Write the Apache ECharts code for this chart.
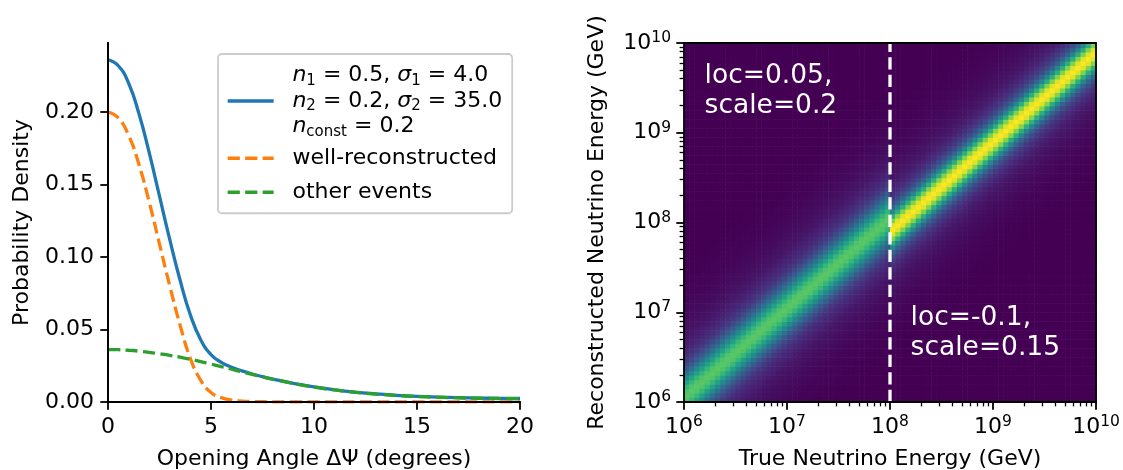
<!DOCTYPE html>
<html><head><meta charset="utf-8">
<script src="https://cdn.jsdelivr.net/npm/echarts@6/dist/echarts.min.js"></script>
<style>html,body{margin:0;padding:0;background:#fff}#c{width:1123px;height:470px}</style>
</head><body><div id="c"></div>
<script>
// ---------- left panel data ----------
const angleDeg = [0,0.5,1,1.5,2,2.5,3,3.5,4,4.5,5,5.5,6,6.5,7,7.5,8,9,10,11,12,13,14,15,16,17,18,19,20];
const totalDensity = [0.236,0.232,0.220,0.199,0.172,0.142,0.112,0.084,0.060,0.043,0.0327,0.0274,0.0240,0.0215,0.0193,0.0175,0.0158,0.0129,0.0104,0.0084,0.0068,0.0056,0.0046,0.0039,0.0034,0.0030,0.0027,0.0025,0.0024];
const wellRecoDensity = [0.200,0.196,0.184,0.164,0.138,0.109,0.080,0.053,0.030,0.015,0.0065,0.003,0.0013,0.0006,0.0003,0.0002,0.0001,0.0001,0.0001,0.0001,0.0001,0.0001,0.0001,0.0001,0.0001,0.0001,0.0001,0.0001,0.0001];
const otherDensity = [0.0362,0.0361,0.0357,0.0351,0.0343,0.0333,0.0322,0.0309,0.0295,0.0279,0.0262,0.0244,0.0226,0.0208,0.0190,0.0173,0.0157,0.0128,0.0103,0.0083,0.0067,0.0055,0.0045,0.0038,0.0033,0.0029,0.0026,0.0024,0.0023];
const leftXTicks = [0,5,10,15,20];
const leftYTicks = [0,0.05,0.10,0.15,0.20];
const leftYMax = 0.2477;

// ---------- right panel data (log10 GeV) ----------
const energyDecades = [6,7,8,9,10];
const minorMultipliers = [2,3,4,5,6,7,8,9];
const cellWidthDecades = 0.05;
const cellCount = 80;
const splitTrueDecade = 8;           // dashed line at 1e8 GeV
const lowLocBins = 1;                // loc = 0.05 decade
const highLocBins = -2;              // loc = -0.1 decade
const lowBandProfile = [0.74,0.72,0.66,0.57,0.47,0.37,0.29,0.22,0.17,0.135,0.11,0.09,0.075,0.062,0.052,0.044,0.037,0.031,0.026,0.022,0.018,0.015,0.012,0.010,0.008,0.006,0.004,0.003,0.002];
const highBandProfile = [1.0,0.95,0.81,0.63,0.45,0.32,0.23,0.17,0.13,0.10,0.08,0.065,0.053,0.044,0.036,0.030,0.025,0.021,0.017,0.014,0.011,0.009,0.007,0.005,0.004,0.003,0.002];
const annotationTexts = ['loc=0.05,\nscale=0.2', 'loc=-0.1,\nscale=0.15'];
const annotationAnchors = [[6.2, 9.8], [8.2, 7.1]];
const viridis = ['#440154','#482475','#414487','#355f8d','#2a788e','#21918c','#22a884','#44bf70','#7ad151','#bddf26','#fde725'];

const FONT = 'DejaVu Sans';
const pairs = (xs, ys) => xs.map((x, i) => [x, ys[i]]);

const cells = [];
for (let i = 0; i < cellCount; i++) {
  const x0 = energyDecades[0] + i * cellWidthDecades;
  const isHigh = x0 >= splitTrueDecade - 1e-9;
  const shift = isHigh ? highLocBins : lowLocBins;
  const prof = isHigh ? highBandProfile : lowBandProfile;
  for (let j = 0; j < cellCount; j++) {
    const y0 = energyDecades[0] + j * cellWidthDecades;
    const d = Math.abs(j - i - shift);
    const v = d < prof.length ? prof[d] : 0;
    cells.push([x0, x0 + cellWidthDecades, y0, y0 + cellWidthDecades, v]);
  }
}
const minorTicks = [];
energyDecades.slice(0, -1).forEach(d => minorMultipliers.forEach(m => minorTicks.push(d + Math.log10(m))));

const axisLineStyle = {color: '#000', width: 1.8};
const tickLabel = {color: '#000', fontFamily: FONT, fontSize: 22};
const powRich = {
  b: {fontFamily: FONT, fontSize: 22, lineHeight: 26, color: '#000'},
  p: {fontFamily: FONT, fontSize: 15.5, lineHeight: 14, verticalAlign: 'top', color: '#000'}
};
const powFmt = v => '{b|10}{p|' + Math.round(v) + '}';

const frameAxis = (pos, grid, isX) => ({
  type: 'value', gridIndex: grid, position: pos, z: 10,
  min: isX ? (grid === 0 ? 0 : 6) : (grid === 0 ? 0 : 6),
  max: isX ? (grid === 0 ? 20 : 10) : (grid === 0 ? leftYMax : 10),
  axisLine: {show: true, lineStyle: axisLineStyle}, axisTick: {show: false},
  axisLabel: {show: false}, splitLine: {show: false}
});

const H = '{h|ff}';
const HU = '{hu|ff}';
const legendNames = {
  fit: H + '{i|n}{s|1}{t| = 0.5, }{i|σ}{s|1}{t| = 4.0}\n' + H + '{i|n}{s|2}{t| = 0.2, }{i|σ}{s|2}{t| = 35.0}\n' + H + '{i|n}{s|const}{t| = 0.2}',
  well: HU + '{u|well-reconstructed}',
  other: HU + '{u|other events}'
};
const LH = 25.5;
const chart = echarts.init(document.getElementById('c'), null, {renderer: 'canvas'});
chart.setOption({
  animation: false,
  backgroundColor: '#fff',
  grid: [
    {left: 108, top: 43, width: 412, height: 359, outerBoundsMode: 'none', containLabel: false},
    {left: 684, top: 43, width: 412, height: 359, outerBoundsMode: 'none', containLabel: false}
  ],
  legend: {
    left: 218, top: 54, orient: 'vertical', itemGap: 4, itemWidth: 46, itemHeight: 30,
    padding: [8.75, 10, 6, 8],
    backgroundColor: 'rgba(255,255,255,0.8)', borderColor: '#cccccc', borderWidth: 1.8, borderRadius: 4,
    itemStyle: {opacity: 0},
    lineStyle: {width: 3.3},
    data: ['fit', 'well', 'other'],
    formatter: n => legendNames[n],
    textStyle: {
      fontFamily: FONT, fontSize: 22, lineHeight: LH, color: '#000',
      rich: {
        h: {fontFamily: FONT, fontSize: 20, lineHeight: LH, color: 'rgba(0,0,0,0)'},
        hu: {fontFamily: FONT, fontSize: 20, lineHeight: 30, color: 'rgba(0,0,0,0)'},
        i: {fontFamily: FONT, fontStyle: 'italic', fontSize: 22, lineHeight: LH, color: '#000'},
        t: {fontFamily: FONT, fontSize: 22, lineHeight: LH, color: '#000'},
        u: {fontFamily: FONT, fontSize: 22, lineHeight: 30, color: '#000'},
        s: {fontFamily: FONT, fontSize: 15, lineHeight: 15, verticalAlign: 'bottom', color: '#000'}
      }
    }
  },
  visualMap: {
    type: 'continuous', show: false, min: 0, max: 1, dimension: 4, seriesIndex: 3,
    inRange: {color: viridis}
  },
  xAxis: [
    {type: 'value', gridIndex: 0, position: 'bottom', min: 0, max: 20, z: 10,
     name: 'Opening Angle ΔΨ (degrees)', nameLocation: 'middle', nameGap: 46,
     nameTextStyle: {fontFamily: FONT, fontSize: 22, color: '#000'},
     axisLine: {show: true, lineStyle: axisLineStyle},
     axisTick: {show: true, length: 7.7, lineStyle: {color: '#000', width: 1.8}, customValues: leftXTicks},
     axisLabel: Object.assign({margin: 14, customValues: leftXTicks, formatter: v => String(v)}, tickLabel),
     splitLine: {show: false}},
    frameAxis('top', 0, true),
    {type: 'value', gridIndex: 1, position: 'bottom', min: 6, max: 10, z: 10,
     name: 'True Neutrino Energy (GeV)', nameLocation: 'middle', nameGap: 46,
     nameTextStyle: {fontFamily: FONT, fontSize: 22, color: '#000'},
     axisLine: {show: true, lineStyle: axisLineStyle},
     axisTick: {show: true, length: 7.7, lineStyle: {color: '#000', width: 1.8}, customValues: energyDecades},
     axisLabel: {margin: 12, customValues: energyDecades, formatter: powFmt, rich: powRich},
     splitLine: {show: false}},
    {type: 'value', gridIndex: 1, position: 'bottom', min: 6, max: 10, z: 10,
     axisLine: {show: false},
     axisTick: {show: true, length: 4.4, lineStyle: {color: '#000', width: 1.3}, customValues: minorTicks},
     axisLabel: {show: false}, splitLine: {show: false}},
    frameAxis('top', 1, true)
  ],
  yAxis: [
    {type: 'value', gridIndex: 0, position: 'left', min: 0, max: leftYMax, z: 10,
     name: 'Probability Density', nameLocation: 'middle', nameGap: 75,
     nameTextStyle: {fontFamily: FONT, fontSize: 22, color: '#000'},
     axisLine: {show: true, lineStyle: axisLineStyle},
     axisTick: {show: true, length: 7.7, lineStyle: {color: '#000', width: 1.8}, customValues: leftYTicks},
     axisLabel: Object.assign({margin: 14, customValues: leftYTicks, formatter: v => v.toFixed(2)}, tickLabel),
     splitLine: {show: false}},
    frameAxis('right', 0, false),
    {type: 'value', gridIndex: 1, position: 'left', min: 6, max: 10, z: 10,
     name: 'Reconstructed Neutrino Energy (GeV)', nameLocation: 'middle', nameGap: 76,
     nameTextStyle: {fontFamily: FONT, fontSize: 22, color: '#000'},
     axisLine: {show: true, lineStyle: axisLineStyle},
     axisTick: {show: true, length: 7.7, lineStyle: {color: '#000', width: 1.8}, customValues: energyDecades},
     axisLabel: {margin: 13, customValues: energyDecades, formatter: powFmt, rich: powRich},
     splitLine: {show: false}},
    {type: 'value', gridIndex: 1, position: 'left', min: 6, max: 10, z: 10,
     axisLine: {show: false},
     axisTick: {show: true, length: 4.4, lineStyle: {color: '#000', width: 1.3}, customValues: minorTicks},
     axisLabel: {show: false}, splitLine: {show: false}},
    frameAxis('right', 1, false)
  ],
  series: [
    {name: 'fit', type: 'line', xAxisIndex: 0, yAxisIndex: 0, data: pairs(angleDeg, totalDensity),
     symbol: 'none', showSymbol: false, smooth: 0.5, color: '#1f77b4',
     lineStyle: {color: '#1f77b4', width: 3.3, cap: 'butt'}, z: 2},
    {name: 'well', type: 'line', xAxisIndex: 0, yAxisIndex: 0, data: pairs(angleDeg, wellRecoDensity),
     symbol: 'none', showSymbol: false, smooth: 0.5, color: '#ff7f0e',
     lineStyle: {color: '#ff7f0e', width: 3.3, type: [12.2, 5.3], cap: 'butt'}, z: 3},
    {name: 'other', type: 'line', xAxisIndex: 0, yAxisIndex: 0, data: pairs(angleDeg, otherDensity),
     symbol: 'none', showSymbol: false, smooth: 0.5, color: '#2ca02c',
     lineStyle: {color: '#2ca02c', width: 3.3, type: [12.2, 5.3], cap: 'butt'}, z: 4},
    {name: 'heat', type: 'custom', xAxisIndex: 2, yAxisIndex: 2, data: cells,
     encode: {x: [0, 1], y: [2, 3]},
     renderItem: (params, api) => {
       const a = api.coord([api.value(0), api.value(3)]);
       const b = api.coord([api.value(1), api.value(2)]);
       return {type: 'rect', shape: {x: a[0], y: a[1], width: b[0] - a[0] + 0.6, height: b[1] - a[1] + 0.6},
               style: {fill: api.visual('color')}};
     }, z: 1},
    {name: 'split', type: 'line', xAxisIndex: 2, yAxisIndex: 2,
     data: [[splitTrueDecade, energyDecades[0]], [splitTrueDecade, energyDecades[energyDecades.length - 1]]],
     symbol: 'none', lineStyle: {color: '#ffffff', width: 3.3, type: [12.2, 5.3]}, z: 5},
    {name: 'notes', type: 'custom', xAxisIndex: 2, yAxisIndex: 2,
     data: annotationAnchors.map((p, k) => [p[0], p[1], k]),
     renderItem: (params, api) => {
       const p = api.coord([api.value(0), api.value(1)]);
       return {type: 'text', x: p[0], y: p[1],
               style: {text: annotationTexts[api.value(2)], fill: '#fff', fontFamily: FONT, fontSize: 26.5,
                       lineHeight: 30, align: 'left', verticalAlign: 'top'}};
     }, z: 6}
  ]
});
</script></body></html>
